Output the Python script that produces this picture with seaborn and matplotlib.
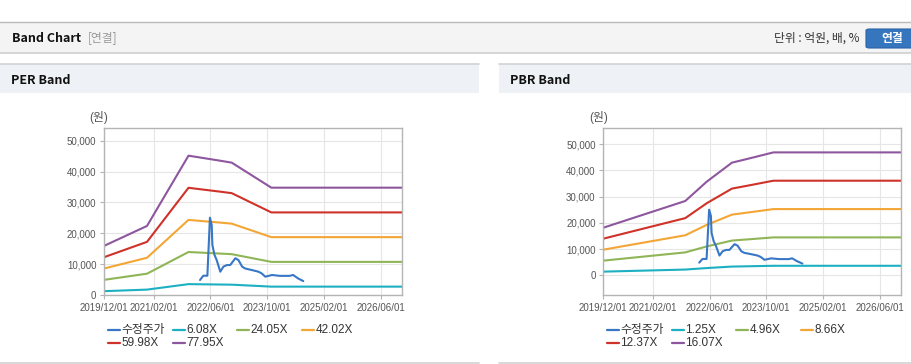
import pandas as pd
import seaborn as sns
import matplotlib.pyplot as plt
from matplotlib.lines import Line2D
from matplotlib.patches import Rectangle, FancyBboxPatch

# Band multiples shown in the legends
per_multiples = [6.08, 24.05, 42.02, 59.98, 77.95]
pbr_multiples = [1.25, 4.96, 8.66, 12.37, 16.07]
band_colors = ['#1cb0c2', '#8fb556', '#f3a636', '#cf3229', '#8e569e']
price_color = '#3877c6'

# Per-share earnings behind the PER band (won)
eps_dates = ['2019-12-01', '2020-12-04', '2021-11-25', '2022-08-25', '2022-12-01',
             '2023-11-06', '2026-12-01']
eps_values = [204, 287, 579, 558, 550, 446, 446]

# Per-share book value behind the PBR band (won)
bps_dates = ['2019-12-01', '2021-11-04', '2022-05-07', '2022-12-10', '2023-05-13',
             '2023-12-01', '2026-12-01']
bps_values = [1131, 1765, 2223, 2675, 2779, 2919, 2919]

# Adjusted share price (수정주가)
price_dates = ['2022-03-04', '2022-04-01', '2022-05-06', '2022-05-28', '2022-06-12',
               '2022-06-18', '2022-07-06', '2022-07-25', '2022-08-25', '2022-09-21',
               '2022-10-21', '2022-11-18', '2023-01-01', '2023-01-28', '2023-02-28',
               '2023-03-25', '2023-05-21', '2023-07-18', '2023-08-15', '2023-09-15',
               '2023-11-12', '2024-01-18', '2024-04-12', '2024-05-10', '2024-06-21',
               '2024-08-06']
price_values = [4860, 6250, 6250, 25050, 22700, 16200, 13000, 11300, 7550, 9200,
                9700, 9700, 11900, 11300, 9200, 8600, 8100, 7550, 7000, 5930,
                6480, 6200, 6200, 6500, 5400, 4500]

xtick_dates = ['2019-12-01', '2021-02-01', '2022-06-01', '2023-10-01', '2025-02-01', '2026-06-01']
xtick_labels = ['2019/12/01', '2021/02/01', '2022/06/01', '2023/10/01', '2025/02/01', '2026/06/01']
ytick_values = [0, 10000, 20000, 30000, 40000, 50000]

W, H = 912, 364

sns.set_theme(style='white')
plt.rcParams['font.family'] = ['Liberation Sans', 'Noto Sans CJK KR', 'DejaVu Sans']

fig = plt.figure(figsize=(W / 100, H / 100), dpi=100)
fig.patch.set_facecolor('white')


def fx(px):
    return px / W


def fy(py):
    return 1 - py / H


def band_frame(dates, base, multiples):
    rows = []
    for m in multiples:
        for d, b in zip(dates, base):
            rows.append({'date': pd.Timestamp(d), 'value': m * b, 'band': f'{m:.2f}X'})
    return pd.DataFrame(rows)


price_df = pd.DataFrame({'date': pd.to_datetime(price_dates), 'value': price_values})


def draw_panel(left_px, right_px, base_dates, base_values, multiples, ylim):
    ax = fig.add_axes([fx(left_px), fy(295), fx(right_px - left_px), (295 - 128.3) / H])
    df = band_frame(base_dates, base_values, multiples)
    labels = [f'{m:.2f}X' for m in multiples]
    sns.lineplot(data=df, x='date', y='value', hue='band', hue_order=labels,
                 palette=dict(zip(labels, band_colors)), linewidth=1.5,
                 legend=False, errorbar=None, ax=ax)
    sns.lineplot(data=price_df, x='date', y='value', color=price_color,
                 linewidth=1.5, errorbar=None, ax=ax)
    ax.set_xlim(pd.Timestamp('2019-12-01'), pd.Timestamp('2026-12-01'))
    ax.set_ylim(*ylim)
    ax.set_xticks(pd.to_datetime(xtick_dates))
    ax.set_xticklabels(xtick_labels)
    ax.set_yticks(ytick_values)
    ax.set_yticklabels([f'{v:,}' for v in ytick_values])
    ax.set_xlabel('')
    ax.set_ylabel('')
    ax.grid(True, color='#e6e6e6', linewidth=0.8)
    for s in ax.spines.values():
        s.set_color('#b4b4b4')
        s.set_linewidth(1)
    ax.tick_params(axis='both', which='both', length=3, width=0.8, color='#b4b4b4',
                   labelcolor='#555555', labelsize=7)
    ax.tick_params(axis='x', pad=2.5, bottom=True)
    ax.tick_params(axis='y', pad=2.5, left=True)
    fig.text(fx(left_px - 5), fy(118), '(원)', fontsize=8.5, color='#555555',
             ha='center', va='center')
    return ax


def draw_legend(x0, multiples):
    entries = [('수정주가', price_color)] + [(f'{m:.2f}X', c) for m, c in zip(multiples, band_colors)]
    for i, (label, color) in enumerate(entries):
        col, row = i % 4, i // 4
        x = x0 + col * 64.7
        y = 330 + row * 13
        fig.add_artist(Line2D([fx(x), fx(x + 12)], [fy(y), fy(y)], color=color,
                              linewidth=1.6, transform=fig.transFigure))
        fig.text(fx(x + 13.5), fy(y), label, fontsize=8.5, color='#333333',
                 ha='left', va='center')


# Top header bar
fig.add_artist(Rectangle((0, fy(53)), 1, fy(22) - fy(53), transform=fig.transFigure,
                         facecolor='#f4f4f4', edgecolor='none'))
fig.add_artist(Line2D([0, 1], [fy(22), fy(22)], color='#b9b9b9', linewidth=1,
                      transform=fig.transFigure))
fig.add_artist(Line2D([0, 1], [fy(53), fy(53)], color='#cfcfcf', linewidth=1.2,
                      transform=fig.transFigure))
fig.text(fx(12), fy(38), 'Band Chart', fontsize=9, fontweight='bold', color='#111111',
         family=['Noto Sans CJK KR'], ha='left', va='center')
fig.text(fx(88), fy(38), '[연결]', fontsize=8.5, color='#999999',
         family=['Noto Sans CJK KR'], ha='left', va='center')
fig.text(fx(860), fy(38), '단위 : 억원, 배, %', fontsize=8.5, color='#333333',
         family=['Noto Sans CJK KR'], ha='right', va='center')
fig.add_artist(FancyBboxPatch((fx(866), fy(48)), fx(50), fy(29) - fy(48),
                              boxstyle='round,pad=0,rounding_size=0.004',
                              transform=fig.transFigure, facecolor='#3576be',
                              edgecolor='#2b64a6', linewidth=0.8))
fig.text(fx(892), fy(38.5), '연결', fontsize=8.5, fontweight='bold', color='white',
         family=['Noto Sans CJK KR'], ha='center', va='center')

# Panel headers and bottom borders
for x0, x1, title in [(0, 479, 'PER Band'), (499, 912, 'PBR Band')]:
    fig.add_artist(Rectangle((fx(x0), fy(93)), fx(x1 - x0), fy(64) - fy(93),
                             transform=fig.transFigure, facecolor='#eef2f7', edgecolor='none'))
    fig.add_artist(Line2D([fx(x0), fx(x1)], [fy(64), fy(64)], color='#d2d2d2', linewidth=1.2,
                          transform=fig.transFigure))
    fig.add_artist(Line2D([fx(x0), fx(x1)], [fy(362.5), fy(362.5)], color='#d2d2d2',
                          linewidth=1.2, transform=fig.transFigure))
    fig.text(fx(x0 + 11), fy(80), title, fontsize=9, fontweight='bold', color='#111111',
             family=['Noto Sans CJK KR'], ha='left', va='center')

draw_panel(104, 402, eps_dates, eps_values, per_multiples, (0, 54000))
draw_panel(603.3, 901, bps_dates, bps_values, pbr_multiples, (-7500, 56100))
draw_legend(108, per_multiples)
draw_legend(607, pbr_multiples)

fig.savefig('out.png', dpi=100)
